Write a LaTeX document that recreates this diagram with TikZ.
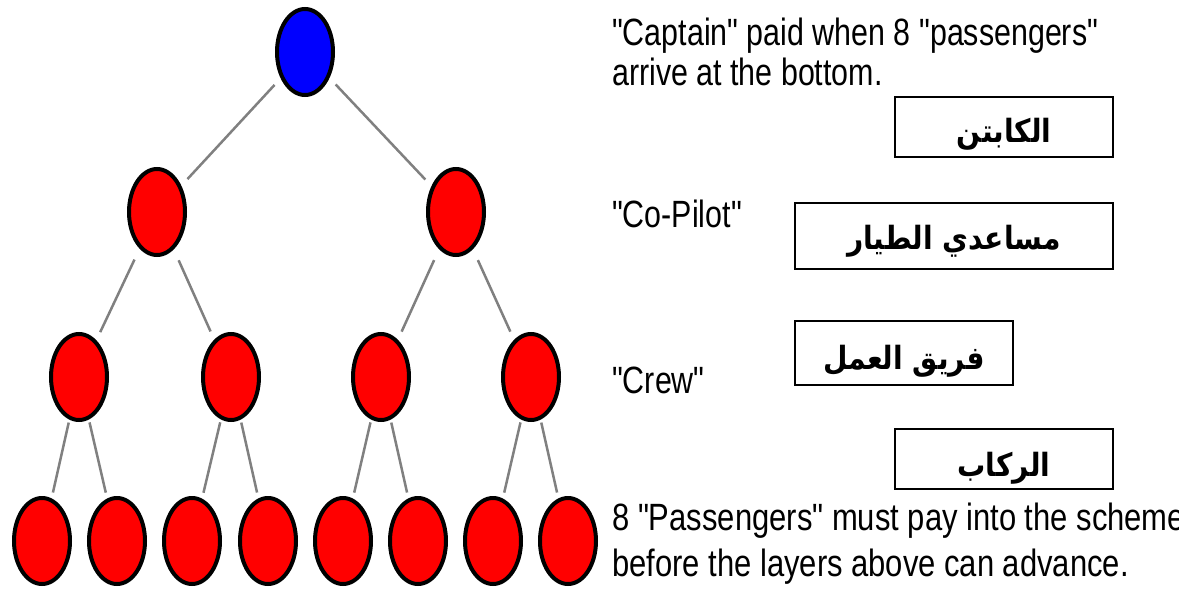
\documentclass[tikz,border=0pt]{standalone}
\usepackage{fontspec}
\usetikzlibrary{shapes.geometric}
\TeXXeTstate=1
\newfontfamily\notefont[FakeStretch=0.80]{Liberation Sans}
\newfontfamily\notefontwide[FakeStretch=0.815]{Liberation Sans}
\newfontfamily\arabicfont[Script=Arabic,FakeStretch=0.88]{DejaVu Sans}
\definecolor{linkgray}{RGB}{128,128,128}
\definecolor{memberred}{RGB}{255,0,0}
\definecolor{captainblue}{RGB}{0,0,255}
\begin{document}
\begin{tikzpicture}[x=1pt,y=-1pt,
  member/.style={ellipse,draw=black,line width=4pt,fill=memberred,
    minimum width=56pt,minimum height=86pt,inner sep=0pt},
  captain/.style={member,fill=captainblue},
  link/.style={draw=linkgray,line width=2.5pt},
  linkA/.style={link,shorten <=9pt,shorten >=9pt},
  linkB/.style={link,shorten <=12pt,shorten >=9pt},
  linkC/.style={link,shorten <=3pt,shorten >=6pt},
  note/.style={anchor=base west,inner sep=0pt,
    font=\notefont\fontsize{38pt}{40pt}\selectfont},
  widenote/.style={note,font=\notefontwide\fontsize{38pt}{40pt}\selectfont},
  rolebox/.style={draw=black,line width=2pt,fill=white,inner sep=0pt,
    font=\arabicfont\bfseries\fontsize{32pt}{34pt}\selectfont}
]
\useasboundingbox (0,0) rectangle (1179,592);
\clip (0,0) rectangle (1179,592);

% pyramid of members
\node[captain] (top) at (305,52) {};
\node[member] (m1) at (157,212) {};
\node[member] (m2) at (456,212) {};
\foreach \i/\x in {1/79,2/231,3/381,4/531}
  \node[member] (c\i) at (\x,377) {};
\foreach \i/\x in {1/42,2/117,3/192,4/268,5/343,6/418,7/493,8/568}
  \node[member] (p\i) at (\x,541) {};

% links between the layers
\draw[linkA] (top) -- (m1);
\draw[linkA] (top) -- (m2);
\draw[linkB] (m1) -- (c1);
\draw[linkB] (m1) -- (c2);
\draw[linkB] (m2) -- (c3);
\draw[linkB] (m2) -- (c4);
\draw[linkC] (c1) -- (p1);
\draw[linkC] (c1) -- (p2);
\draw[linkC] (c2) -- (p3);
\draw[linkC] (c2) -- (p4);
\draw[linkC] (c3) -- (p5);
\draw[linkC] (c3) -- (p6);
\draw[linkC] (c4) -- (p7);
\draw[linkC] (c4) -- (p8);

% explanatory notes
\node[note] (cap1) at (612,45) {"Captain" paid when 8 "passengers"};
\node[note] (cap2) at (612,85) {arrive at the bottom.};
\node[note] (copilot) at (612,227) {"Co-Pilot"};
\node[note] (crew) at (612,393) {"Crew"};
\node[widenote] (pass1) at (612,530) {8 "Passengers" must pay into the scheme};
\node[widenote] (pass2) at (612,576) {before the layers above can advance.};

% Arabic role boxes
\node[rolebox,minimum width=218pt,minimum height=60pt,text height=30pt,text depth=0pt]
  (rcaptain) at (1004,127) {\beginR الكابتن\endR};
\node[rolebox,minimum width=318pt,minimum height=66pt,text height=26pt,text depth=0pt]
  (rcopilot) at (954,236) {\beginR مساعدي الطيار\endR};
\node[rolebox,minimum width=218pt,minimum height=64pt,text height=32pt,text depth=0pt]
  (rcrew) at (904,353) {\beginR فريق العمل\endR};
\node[rolebox,minimum width=218pt,minimum height=60pt,text height=34pt,text depth=0pt]
  (rpass) at (1004,459) {\beginR الركاب\endR};
\end{tikzpicture}
\end{document}
